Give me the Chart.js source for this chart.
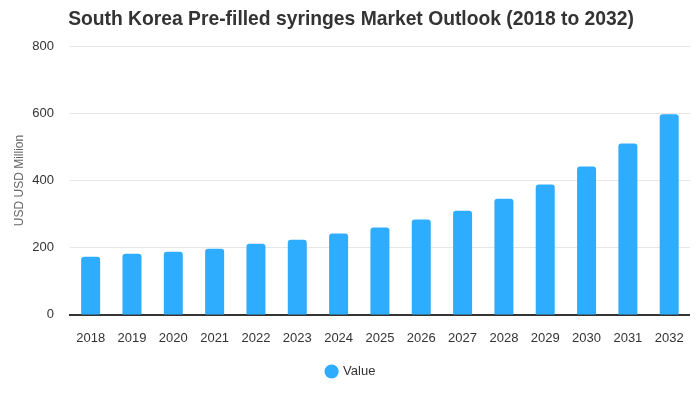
<!DOCTYPE html>
<html>
<head>
<meta charset="utf-8">
<script src="https://cdn.jsdelivr.net/npm/chart.js@4/dist/chart.umd.min.js"></script>
<style>
  html, body { margin: 0; padding: 0; background: #fff; }
  #wrap { width: 700px; height: 400px; position: relative; }
</style>
</head>
<body>
<div id="wrap"><canvas id="chart"></canvas></div>
<script>
// data
const years = ['2018', '2019', '2020', '2021', '2022', '2023', '2024', '2025',
               '2026', '2027', '2028', '2029', '2030', '2031', '2032'];
const values = [173, 182, 188, 197, 212, 224, 242, 260, 284, 310, 346, 388, 442, 510, 597];
const yTicks = [0, 200, 400, 600, 800];

const font = "'Liberation Sans', Arial, sans-serif";

new Chart(document.getElementById('chart'), {
    type: 'bar',
    data: {
        labels: years,
        datasets: [{
            label: 'Value',
            data: values,
            backgroundColor: '#2eadff',
            borderRadius: { topLeft: 3, topRight: 3 },
            borderSkipped: 'bottom',
            barPercentage: 0.46,
            categoryPercentage: 1
        }]
    },
    options: {
        responsive: true,
        maintainAspectRatio: false,
        animation: false,
        layout: { padding: { left: 12, right: 10, top: 5, bottom: 12 } },
        plugins: {
            title: {
                display: true,
                text: 'South Korea Pre-filled syringes Market Outlook (2018 to 2032)',
                color: '#333',
                font: { family: font, size: 19.3, weight: 'bold' },
                padding: { top: 3, bottom: 15 }
            },
            legend: {
                position: 'bottom',
                labels: {
                    usePointStyle: true,
                    pointStyle: 'circle',
                    boxWidth: 10,
                    boxHeight: 10,
                    color: '#333',
                    padding: 9.5,
                    font: { family: font, size: 13 }
                }
            },
            tooltip: { enabled: false }
        },
        scales: {
            x: {
                afterFit: axis => { axis.height -= 7; },
                grid: { display: false, drawTicks: false },
                border: { color: '#333', width: 2 },
                ticks: {
                    color: '#333',
                    padding: 16,
                    maxRotation: 0,
                    font: { family: font, size: 13 }
                }
            },
            y: {
                min: 0,
                max: 800,
                afterBuildTicks: axis => { axis.ticks = yTicks.map(v => ({ value: v })); },
                afterFit: axis => { axis.width = 58; },
                grid: { color: '#e6e6e6', drawTicks: false },
                border: { display: false },
                ticks: {
                    color: '#333',
                    padding: 16,
                    font: { family: font, size: 13 }
                },
                title: {
                    display: true,
                    text: 'USD USD Million',
                    color: '#666',
                    font: { family: font, size: 12 },
                    padding: { top: 0, bottom: 4 }
                }
            }
        }
    }
});
</script>
</body>
</html>
